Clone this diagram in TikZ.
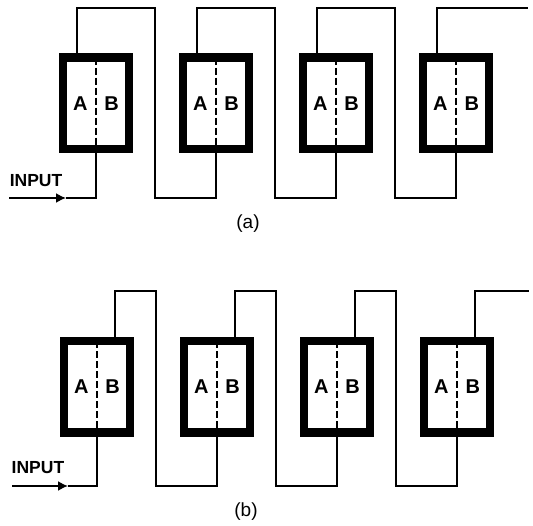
\documentclass[tikz,border=0pt]{standalone}
\usepackage{fontspec}
\setmainfont{Liberation Sans}
\usetikzlibrary{calc,positioning,arrows.meta}

\begin{document}
\begin{tikzpicture}[
    x=1pt, y=-1pt,
    divider/.style={line width=1.3pt, dash pattern=on 7pt off 3pt},
    cell/.style={rectangle, draw=black, line width=8.5pt, fill=white,
                 minimum width=66pt, minimum height=91.5pt, inner sep=0pt,
                 font=\fontsize{20}{22}\selectfont\bfseries,
                 path picture={\draw[divider] (path picture bounding box.north) -- (path picture bounding box.south);}},
    wire/.style={line width=1.6pt, black},
    feed/.style={wire, -{Latex[length=10pt, width=10pt]}},
    tag/.style={font=\fontsize{17.5}{19}\selectfont\bfseries, inner sep=0pt},
    caption/.style={font=\fontsize{19}{21}\selectfont, inner sep=0pt},
]
    \useasboundingbox (0,0) rectangle (533,526);

    % (a)
    \node[cell] (a1) at (96,103.5) {A\hspace{17pt}B};
    \node[cell] (a2) at (216,103.5) {A\hspace{17pt}B};
    \node[cell] (a3) at (336,103.5) {A\hspace{17pt}B};
    \node[cell] (a4) at (456,103.5) {A\hspace{17pt}B};
    \node[tag] (inputA) at (36,181) {INPUT};
    \node[caption] (capA) at (248,224) {(a)};

    \coordinate (srcA) at (9,198);
    \coordinate (tipA) at (66,198);
    \coordinate (topA) at (0,8);
    \coordinate (botA) at (0,198);
    \coordinate (endA) at (528,8);

    \draw[feed] (srcA) -- (tipA);
    \draw[wire] (tipA) -| (a1.south);
    \draw[wire] ([xshift=-19pt]a1.north) |- ([xshift=59pt]a1.north |- topA) |- (a2.south |- botA) -- (a2.south);
    \draw[wire] ([xshift=-19pt]a2.north) |- ([xshift=59pt]a2.north |- topA) |- (a3.south |- botA) -- (a3.south);
    \draw[wire] ([xshift=-19pt]a3.north) |- ([xshift=59pt]a3.north |- topA) |- (a4.south |- botA) -- (a4.south);
    \draw[wire] ([xshift=-19pt]a4.north) |- (endA);

    % (b)
    \node[cell] (b1) at (97,387) {A\hspace{17pt}B};
    \node[cell] (b2) at (217,387) {A\hspace{17pt}B};
    \node[cell] (b3) at (337,387) {A\hspace{17pt}B};
    \node[cell] (b4) at (457,387) {A\hspace{17pt}B};
    \node[tag] (inputB) at (38,468) {INPUT};
    \node[caption] (capB) at (246,512) {(b)};

    \coordinate (srcB) at (12,486);
    \coordinate (tipB) at (68,486);
    \coordinate (topB) at (0,291);
    \coordinate (botB) at (0,486);
    \coordinate (endB) at (529,291);

    \draw[feed] (srcB) -- (tipB);
    \draw[wire] (tipB) -| (b1.south);
    \draw[wire] ([xshift=18pt]b1.north) |- ([xshift=59pt]b1.north |- topB) |- (b2.south |- botB) -- (b2.south);
    \draw[wire] ([xshift=18pt]b2.north) |- ([xshift=59pt]b2.north |- topB) |- (b3.south |- botB) -- (b3.south);
    \draw[wire] ([xshift=18pt]b3.north) |- ([xshift=59pt]b3.north |- topB) |- (b4.south |- botB) -- (b4.south);
    \draw[wire] ([xshift=18pt]b4.north) |- (endB);
\end{tikzpicture}
\end{document}
